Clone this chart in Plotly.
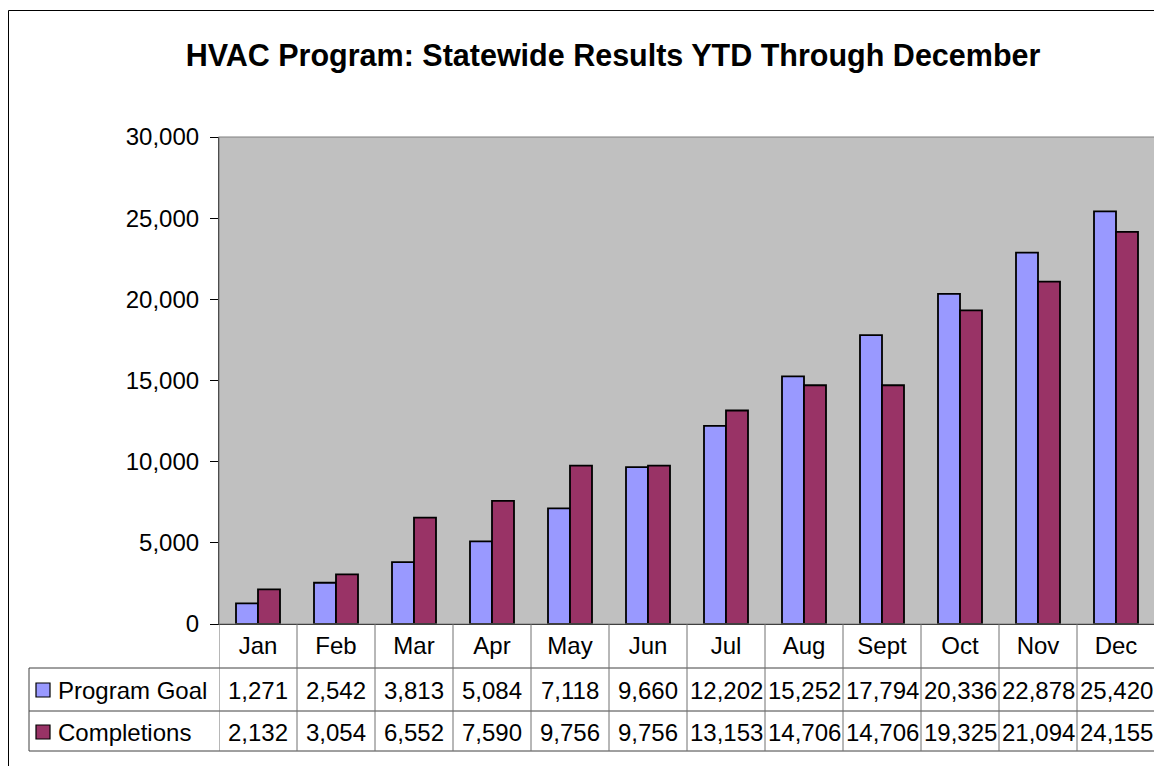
import plotly.graph_objects as go

months = ["Jan", "Feb", "Mar", "Apr", "May", "Jun", "Jul", "Aug", "Sept", "Oct", "Nov", "Dec"]
program_goal = [1271, 2542, 3813, 5084, 7118, 9660, 12202, 15252, 17794, 20336, 22878, 25420]
completions = [2132, 3054, 6552, 7590, 9756, 9756, 13153, 14706, 14706, 19325, 21094, 24155]
series_names = ["Program Goal", "Completions"]
series_colors = ["#9999FF", "#993366"]
y_ticks = [0, 5000, 10000, 15000, 20000, 25000, 30000]

# page has an 8px body margin; work in page pixel coords and convert
OFF = 8
W, H = 1162 - OFF, 766 - OFF
L, R, T, B = 219, 1155, 137, 624  # page coords of plot area
FONT = "Liberation Sans, Arial, sans-serif"


def py(p):
    return (B - p) / (B - T)


def px(p):
    return (p - L) / (R - L)


fig = go.Figure()
for name, vals, col in zip(series_names, [program_goal, completions], series_colors):
    fig.add_trace(go.Bar(x=months, y=vals, name=name, marker=dict(color=col, line=dict(color="black", width=1.8)),
                         showlegend=False))

shapes = []
annotations = []
n = len(months)
# outer frame
shapes.append(dict(type="rect", xref="paper", yref="paper", x0=px(8.5), x1=px(1180), y0=py(10.5), y1=py(790),
                   line=dict(color="black", width=1), layer="below"))
# plot area border
shapes.append(dict(type="rect", xref="paper", yref="paper", x0=0, x1=1, y0=0, y1=1,
                   line=dict(color="#808080", width=1.2), layer="above"))
# table horizontal lines
for yy in [668, 711, 751]:
    shapes.append(dict(type="line", xref="paper", yref="paper", x0=px(29), x1=1, y0=py(yy), y1=py(yy),
                       line=dict(color="#404040", width=1)))
shapes.append(dict(type="line", xref="paper", yref="paper", x0=px(29), x1=px(29), y0=py(668), y1=py(751),
                   line=dict(color="#404040", width=1)))
# vertical category separators
for i in range(n + 1):
    shapes.append(dict(type="line", xref="x", yref="paper", x0=i - 0.5, x1=i - 0.5, y0=0, y1=py(751),
                       line=dict(color="#707070", width=1)))

row_y = [690, 732]
for name, vals, col, ry in zip(series_names, [program_goal, completions], series_colors, row_y):
    shapes.append(dict(type="rect", xref="paper", yref="paper", x0=px(36), x1=px(50), y0=py(ry - 7), y1=py(ry + 7),
                       fillcolor=col, line=dict(color="black", width=1.2)))
    annotations.append(dict(xref="paper", yref="paper", x=px(56), y=py(ry), text=name, showarrow=False,
                            xanchor="left", yanchor="middle", font=dict(family=FONT, size=24, color="black")))
    for m, v in zip(months, vals):
        annotations.append(dict(xref="x", yref="paper", x=m, y=py(ry), text=f"{v:,}", showarrow=False,
                                xanchor="center", yanchor="middle", font=dict(family=FONT, size=24, color="black")))

fig.update_layout(
    width=W, height=H,
    margin=dict(l=L - OFF, r=1162 - R, t=T - OFF, b=766 - B, pad=0),
    paper_bgcolor="white", plot_bgcolor="#C0C0C0",
    barmode="group", bargap=0.436, bargroupgap=0,
    title=dict(text="<b>HVAC Program: Statewide Results YTD Through December</b>", x=(613 - OFF) / W,
               xanchor="center", y=1 - (55 - OFF) / H, yanchor="middle", yref="container",
               font=dict(family=FONT, size=30.5, color="black")),
    xaxis=dict(type="category", range=[-0.5, n - 0.5], showline=True, linecolor="black", linewidth=1.2,
               ticks="", showgrid=False, tickfont=dict(family=FONT, size=24, color="black"),
               ticklabelstandoff=0, fixedrange=True),
    yaxis=dict(range=[0, 30000], tickvals=y_ticks, tickformat=",", showline=True, linecolor="black", linewidth=1.2,
               ticks="outside", ticklen=8, tickcolor="black", showgrid=False, zeroline=False,
               tickfont=dict(family=FONT, size=24, color="black"), ticklabelstandoff=6),
    shapes=shapes, annotations=annotations,
)

fig.write_html("out.html")
